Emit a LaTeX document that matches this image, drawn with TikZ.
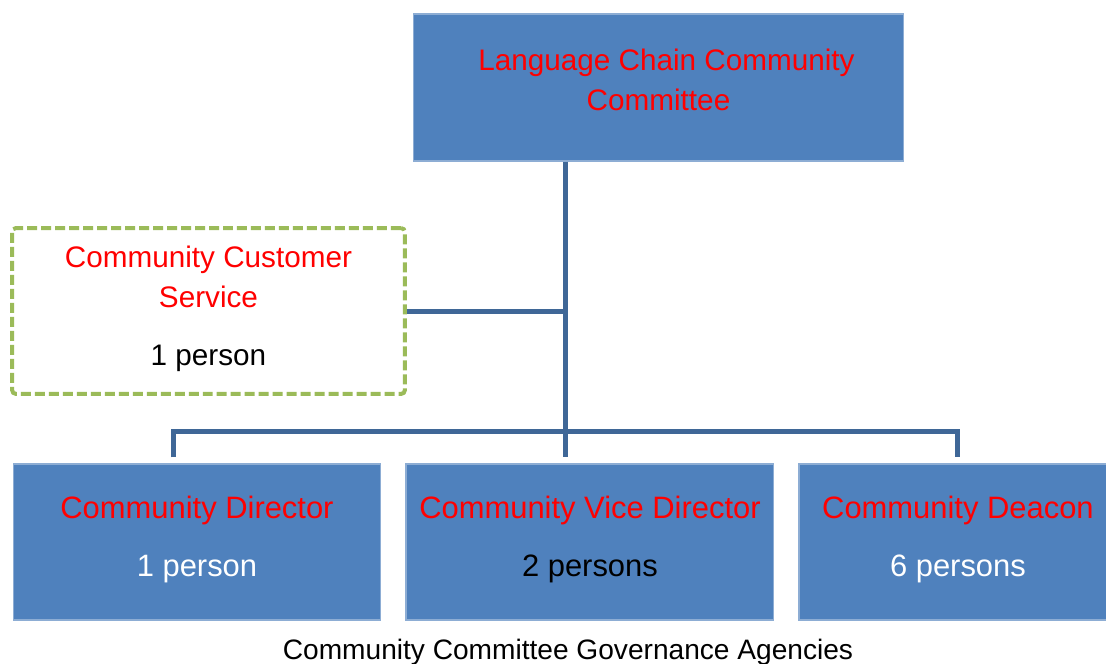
\documentclass[tikz,border=0pt]{standalone}
\usepackage{fontspec}
\setmainfont{Liberation Sans}
\usetikzlibrary{calc,positioning}
\definecolor{boxblue}{HTML}{4F81BD}
\definecolor{lineblue}{HTML}{3F6797}
\definecolor{dashgreen}{HTML}{9BBB59}
\definecolor{titlered}{HTML}{FF0000}

\begin{document}
\begin{tikzpicture}[x=0.02cm,y=-0.02cm,
  unit/.style={rectangle,fill=boxblue,draw=boxblue!65!white,line width=0.6pt,
               inner sep=0pt,align=center,
               minimum width=7.36cm,minimum height=3.12cm,
               font=\fontsize{17.6}{33}\selectfont},
  head/.style={unit,minimum width=9.82cm,minimum height=2.94cm},
  service/.style={rectangle,draw=dashgreen,line width=0.08cm,
                  dash pattern=on 0.2cm off 0.08cm,rounded corners=0.8mm,
                  inner sep=0pt,align=center,
                  minimum width=7.86cm,minimum height=3.32cm,
                  font=\fontsize{16.9}{22.8}\selectfont},
  link/.style={draw=lineblue,line width=0.1cm}]
  \tikzstyle{caption} = [font=\fontsize{16}{19}\selectfont,inner sep=0pt]

  \useasboundingbox (0,0) rectangle (1106,663);

    \node[head] (COMMITTEE) at (658.5,87.5) [label={[yshift=0.15cm,align=center,
      font=\fontsize{16.9}{22.8}\selectfont,text=titlered]center:{\hspace{0.32cm}Language Chain Community\\Committee}}] {};
    \node[service] (SERVICE) at (208.5,311)
      {\textcolor{titlered}{Community Customer}\\\textcolor{titlered}{Service}\\[10.2pt]1 person\rule[-6.5pt]{0pt}{0pt}};
    \node[unit] (DIRECTOR) at (197,542)
      {\textcolor{titlered}{Community Director}\\\textcolor{white}{1 person}\rule[-7pt]{0pt}{0pt}};
    \node[unit] (VICE) [right=0.48cm of DIRECTOR]
      {\textcolor{titlered}{Community Vice Director}\\2 persons\rule[-7pt]{0pt}{0pt}};
    \node[unit,minimum width=6.36cm] (DEACON) [right=0.48cm of VICE]
      {\textcolor{titlered}{Community Deacon}\\\textcolor{white}{6 persons}\rule[-7pt]{0pt}{0pt}};
    \node[caption,anchor=base] (CAPTION) at (568,659) {Community Committee Governance Agencies};

    % drop points above the lower boxes
    \coordinate (DIRtop) at ($(DIRECTOR.north)+(-0.48cm,0.12cm)$);
    \coordinate (VICEtop) at ($(VICE.north)+(-0.48cm,0.12cm)$);
    \coordinate (DEACtop) at ($(DEACON.north)+(0cm,0.12cm)$);
    \coordinate (BUS) at ($(VICEtop)+(0cm,0.52cm)$);

    \draw[link] (COMMITTEE.south -| VICEtop) -- (VICEtop);
    \draw[link] (DIRtop) |- (BUS) -| (DEACtop);
    \draw[link] (SERVICE.east) -- (SERVICE.east -| BUS);

\end{tikzpicture}
\end{document}
